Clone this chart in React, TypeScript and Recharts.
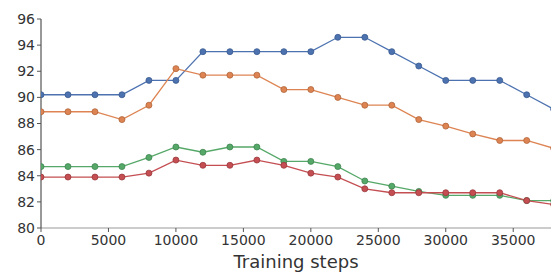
import React from 'react';
import { LineChart, Line, XAxis, YAxis } from 'recharts';

const steps = [0, 2000, 4000, 6000, 8000, 10000, 12000, 14000, 16000, 18000, 20000, 22000, 24000, 26000, 28000, 30000, 32000, 34000, 36000, 38000];
const blue = [90.2, 90.2, 90.2, 90.2, 91.3, 91.3, 93.5, 93.5, 93.5, 93.5, 93.5, 94.6, 94.6, 93.5, 92.4, 91.3, 91.3, 91.3, 90.2, 89.1];
const orange = [88.9, 88.9, 88.9, 88.3, 89.4, 92.2, 91.7, 91.7, 91.7, 90.6, 90.6, 90.0, 89.4, 89.4, 88.3, 87.8, 87.2, 86.7, 86.7, 86.1];
const green = [84.7, 84.7, 84.7, 84.7, 85.4, 86.2, 85.8, 86.2, 86.2, 85.1, 85.1, 84.7, 83.6, 83.2, 82.8, 82.5, 82.5, 82.5, 82.1, 82.1];
const red = [83.9, 83.9, 83.9, 83.9, 84.2, 85.2, 84.8, 84.8, 85.2, 84.8, 84.2, 83.9, 83.0, 82.7, 82.7, 82.7, 82.7, 82.7, 82.1, 81.8];

const xTicks = [0, 5000, 10000, 15000, 20000, 25000, 30000, 35000];
const yTicks = [80, 82, 84, 86, 88, 90, 92, 94, 96];

const data = steps.map((s, i) => ({ step: s, blue: blue[i], orange: orange[i], green: green[i], red: red[i] }));

const series = [
  { key: 'blue', color: '#4C72B0', edge: '#3a5a8f' },
  { key: 'orange', color: '#DD8452', edge: '#b0653a' },
  { key: 'green', color: '#55A868', edge: '#3f8550' },
  { key: 'red', color: '#C44E52', edge: '#9a3a3e' },
];

const font = 'DejaVu Sans, sans-serif';

export default function App() {
  return (
    <div style={{ position: 'absolute', left: 0, top: 0, width: 551, height: 273, overflow: 'hidden', background: '#fff' }}>
      <LineChart width={551} height={273} data={data} margin={{ top: 19, right: 0, bottom: 0, left: 0 }}>
        <XAxis
          xAxisId="top"
          orientation="top"
          dataKey="step"
          type="number"
          domain={[0, 37800]}
          allowDataOverflow
          ticks={xTicks}
          tickFormatter={() => ''}
          height={0}
          tickSize={4}
          axisLine={{ stroke: '#aaa' }}
          tickLine={{ stroke: '#555' }}
        />
        <XAxis
          dataKey="step"
          type="number"
          domain={[0, 37800]}
          allowDataOverflow
          ticks={xTicks}
          height={45}
          tickSize={4}
          tickMargin={3}
          axisLine={{ stroke: '#999' }}
          tickLine={{ stroke: '#555' }}
          tick={{ fill: '#333', fontSize: 14, fontFamily: font }}
          label={{ value: 'Training steps', position: 'insideBottom', offset: 5, fill: '#333', fontSize: 18, fontFamily: font }}
        />
        <YAxis
          domain={[80, 96]}
          ticks={yTicks}
          width={41}
          tickSize={4}
          tickMargin={2}
          interval={0}
          axisLine={{ stroke: '#333' }}
          tickLine={{ stroke: '#555' }}
          tick={{ fill: '#333', fontSize: 14, fontFamily: font }}
        />
        {series.map((s) => (
          <Line
            key={s.key}
            xAxisId={0}
            dataKey={s.key}
            stroke={s.color}
            strokeWidth={1.3}
            type="linear"
            dot={{ r: 3, fill: s.color, stroke: s.edge, strokeWidth: 0.8 }}
            isAnimationActive={false}
          />
        ))}
      </LineChart>
    </div>
  );
}
